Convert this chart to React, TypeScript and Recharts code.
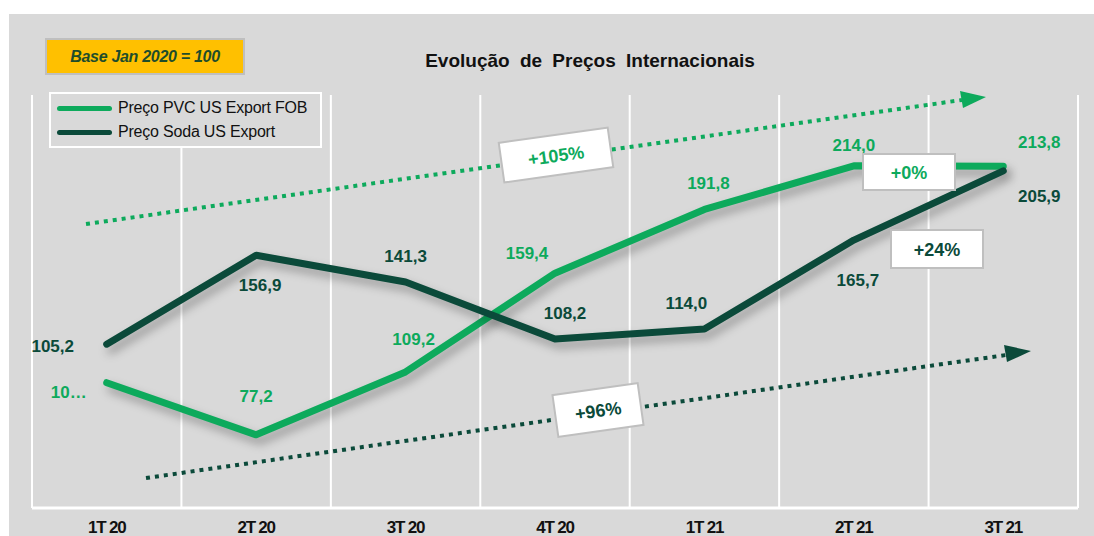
import React from 'react';
import { LineChart, Line, XAxis, YAxis, ReferenceLine } from 'recharts';

const quarters = ['1T 20', '2T 20', '3T 20', '4T 20', '1T 21', '2T 21', '3T 21'];
const pvcValues = [103.7, 77.2, 109.2, 159.4, 191.8, 214.0, 213.8];
const sodaValues = [105.2, 156.9, 141.3, 108.2, 114.0, 165.7, 205.9];
// first PVC label is cut off in the original ("10…")
const pvcTruncated = [true, false, false, false, false, false, false];

// label offsets relative to the point (dx, dy, anchor)
const pvcLabelPos: [number, number, string][] = [
  [-38, 10, 'middle'], [0, -38, 'middle'], [8, -32, 'middle'], [-28, -20, 'middle'],
  [4, -26, 'middle'], [0, -20, 'middle'], [36, -24, 'middle'],
];
const sodaLabelPos: [number, number, string][] = [
  [-54, 2, 'middle'], [4, 30, 'middle'], [0, -26, 'middle'], [10, -26, 'middle'],
  [-18, -26, 'middle'], [4, 40, 'middle'], [36, 26, 'middle'],
];

const PVC = '#0DAA5C';
const SODA = '#0B4A3A';
const BG = '#D9D9D9';
const FONT = 'Arial, "Liberation Sans", sans-serif';

const data = quarters.map((q, i) => ({ x: i, name: q, pvc: pvcValues[i], soda: sodaValues[i] }));

const fmt = (v: number) => v.toFixed(1).replace('.', ',');

const makeLabel = (pos: [number, number, string][], color: string, truncated?: boolean[]) => (props: any) => {
  const { x, y, index, value } = props;
  const [dx, dy, anchor] = pos[index];
  let txt = fmt(value);
  if (truncated && truncated[index]) txt = txt.slice(0, 2) + '…';
  return (
    <text x={x + dx} y={y + dy} textAnchor={anchor} dominantBaseline="central"
      fill={color} fontFamily={FONT} fontWeight="bold" fontSize={17}>
      {txt}
    </text>
  );
};

const QuarterTick = (props: any) => {
  const { x, y, payload } = props;
  return (
    <text x={x} y={y + 11} textAnchor="middle" dominantBaseline="central" fill="#111"
      fontFamily={FONT} fontWeight="bold" fontSize={17} letterSpacing={-1.2}>
      {quarters[payload.value]}
    </text>
  );
};

const LegendBox = () => (
  <div style={{
    position: 'absolute', left: 49, top: 92, width: 273, boxSizing: 'border-box', whiteSpace: 'nowrap',
    border: '2px solid #fff', background: BG, padding: '2px 4px 2px 6px', fontFamily: FONT,
    fontSize: 16, color: '#111', lineHeight: '24px', letterSpacing: -0.2,
  }}>
    <div style={{ display: 'flex', alignItems: 'center' }}>
      <span style={{ display: 'inline-block', width: 55, height: 5, borderRadius: 3, background: PVC, marginRight: 6 }} />
      Preço PVC US Export FOB
    </div>
    <div style={{ display: 'flex', alignItems: 'center' }}>
      <span style={{ display: 'inline-block', width: 55, height: 5, borderRadius: 3, background: SODA, marginRight: 6 }} />
      Preço Soda US Export
    </div>
  </div>
);

const Badge = ({ cx, cy, w, h, rot, text, color }: any) => (
  <g transform={`translate(${cx},${cy}) rotate(${rot})`}>
    <rect x={-w / 2} y={-h / 2} width={w} height={h} fill="#fff" stroke="#BFBFBF" strokeWidth={2} />
    <text x={0} y={1} textAnchor="middle" dominantBaseline="central" fill={color}
      fontFamily={FONT} fontWeight="bold" fontSize={18}>{text}</text>
  </g>
);

export default function App() {
  return (
    <div style={{ position: 'absolute', left: 0, top: 0, width: 1094, height: 536, background: '#fff', overflow: 'hidden' }}>
      <style>{`.recharts-line-curve { filter: drop-shadow(4px 6px 5px rgba(0,0,0,0.3)); }`}</style>
      <div style={{ position: 'absolute', left: 9, top: 14, width: 1085, height: 522, background: BG }} />
      <div style={{
        position: 'absolute', left: 45, top: 38, width: 196, height: 33, background: '#FFC000',
        border: '2px solid #BFBFBF', display: 'flex', alignItems: 'center', justifyContent: 'center',
        fontFamily: FONT, fontStyle: 'italic', fontWeight: 'bold',
        fontSize: 16, color: '#1E4D2B', letterSpacing: -0.3,
      }}>Base Jan 2020 = 100</div>
      <div style={{
        position: 'absolute', left: 290, top: 50, width: 600, textAlign: 'center', fontFamily: FONT,
        fontWeight: 'bold', fontSize: 19, color: '#111', wordSpacing: 5,
      }}>Evolução de Preços Internacionais</div>
      <div style={{ position: 'absolute', left: 0, top: 0 }}>
        <LineChart width={1094} height={536} data={data} margin={{ top: 95, right: 16, left: 32, bottom: 0 }}>
          <XAxis dataKey="x" type="number" domain={[-0.5, 6.5]} ticks={[0, 1, 2, 3, 4, 5, 6]}
            height={28} axisLine={{ stroke: '#fff', strokeWidth: 3 }}
            tickLine={false} interval={0} tick={<QuarterTick />} />
          <YAxis yAxisId="pvc" domain={[40, 250]} hide />
          <YAxis yAxisId="soda" domain={[10, 250]} hide orientation="right" />
          {[-0.5, 0.5, 1.5, 2.5, 3.5, 4.5, 5.5, 6.5].map(v => (
            <ReferenceLine key={v} x={v} yAxisId="pvc" stroke="#fff" strokeWidth={2} />
          ))}
          <Line yAxisId="pvc" type="linear" dataKey="pvc" stroke={PVC} strokeWidth={7} strokeLinecap="round"
            strokeLinejoin="round" dot={false} activeDot={false} isAnimationActive={false}
            label={makeLabel(pvcLabelPos, PVC, pvcTruncated)} />
          <Line yAxisId="soda" type="linear" dataKey="soda" stroke={SODA} strokeWidth={7} strokeLinecap="round"
            strokeLinejoin="round" dot={false} activeDot={false} isAnimationActive={false}
            label={makeLabel(sodaLabelPos, SODA)} />
        </LineChart>
      </div>
      <LegendBox />
      <svg width={1094} height={536} style={{ position: 'absolute', left: 0, top: 0, pointerEvents: 'none' }}>
        <line x1={86} y1={224} x2={962} y2={100} stroke={PVC} strokeWidth={4} strokeDasharray="4 5" />
        <polygon points="986,97 960,91 963,108" fill={PVC} />
        <line x1={146} y1={478} x2={1006} y2={355} stroke={SODA} strokeWidth={4} strokeDasharray="4 5" />
        <polygon points="1031,351 1004,345 1007,362" fill={SODA} />
        <Badge cx={556} cy={155} w={110} h={40} rot={-8} text="+105%" color={PVC} />
        <Badge cx={598} cy={410} w={86} h={42} rot={-8} text="+96%" color={SODA} />
        <Badge cx={909} cy={172} w={92} h={36} rot={0} text="+0%" color={PVC} />
        <Badge cx={937} cy={249} w={92} h={38} rot={0} text="+24%" color={SODA} />
      </svg>
    </div>
  );
}
